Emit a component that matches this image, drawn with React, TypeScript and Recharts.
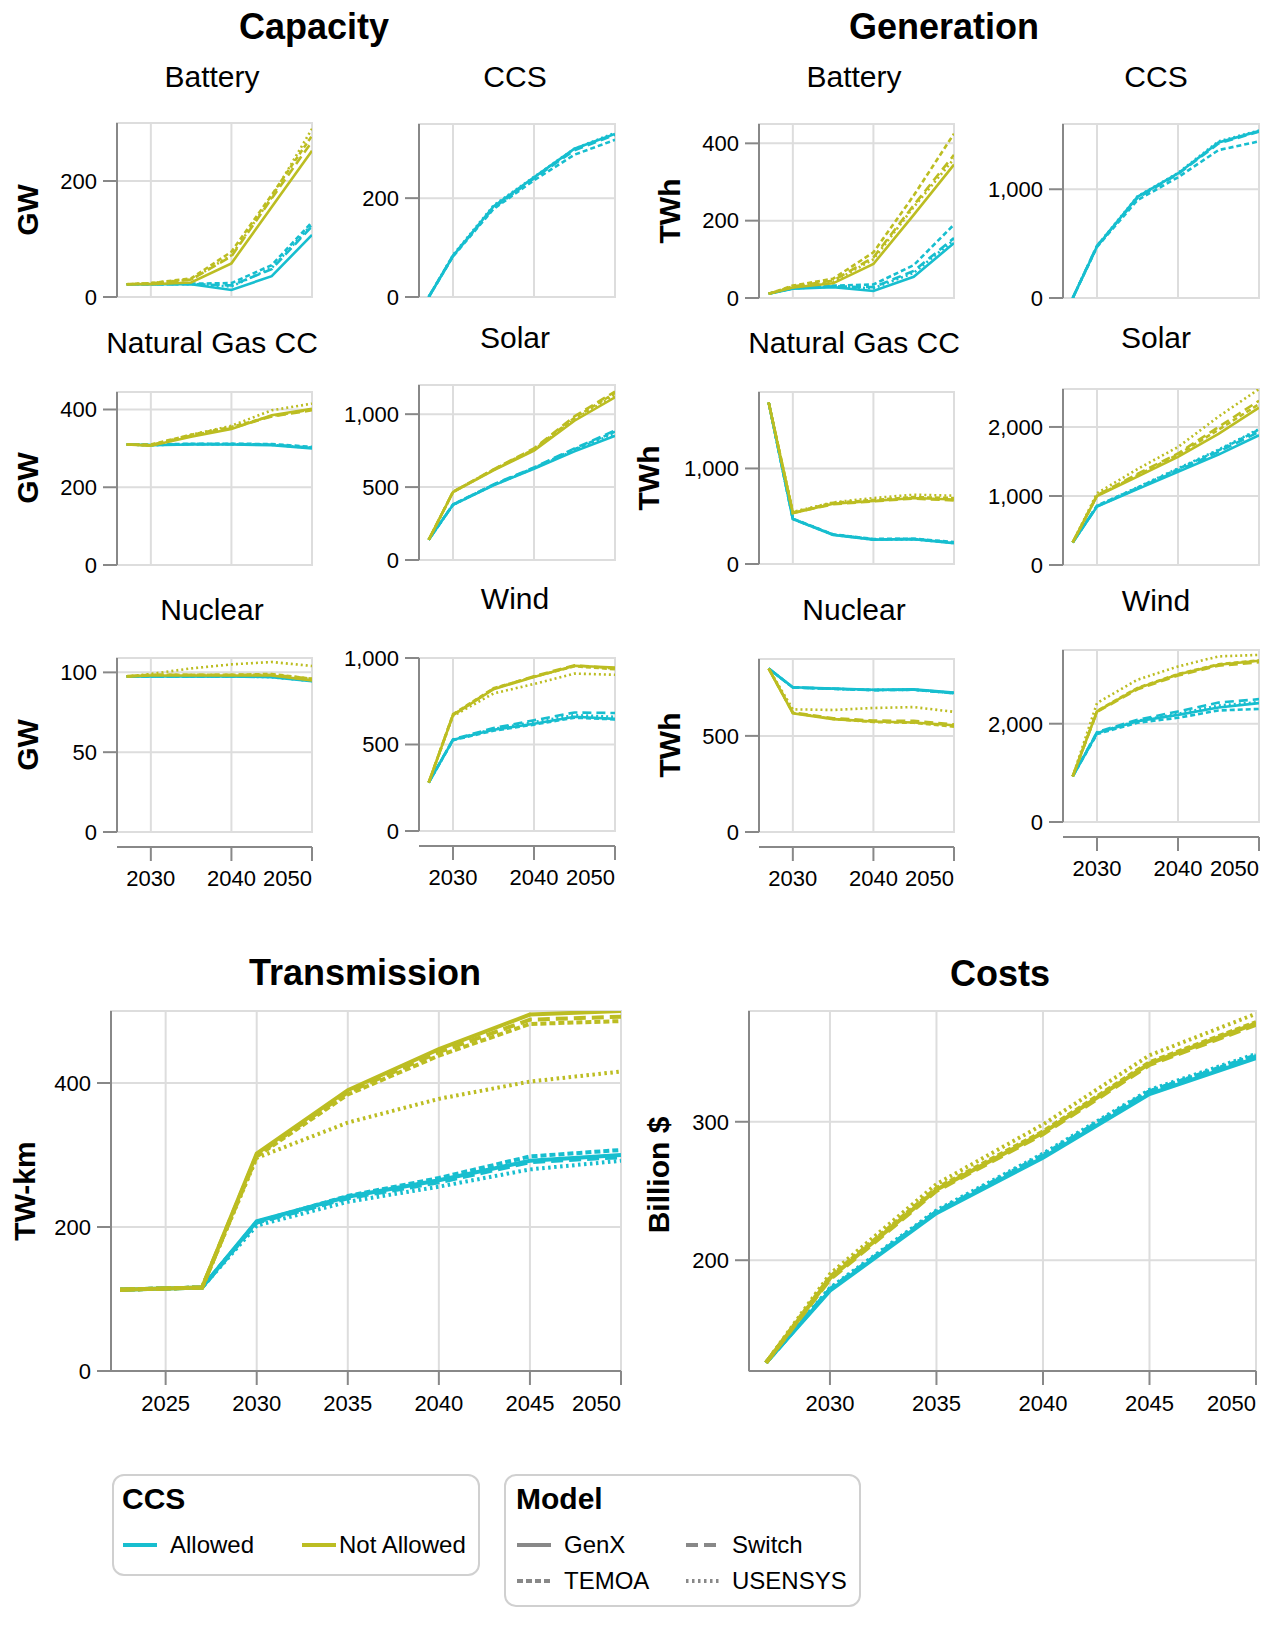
import React from 'react';
import { LineChart, Line, XAxis, YAxis, CartesianGrid, ReferenceArea } from 'recharts';

const CYAN = '#17becf';
const OLIVE = '#bcbd22';
const AXIS = '#888888';
const GRID = '#dddddd';
const FONT = '"Liberation Sans", Arial, Helvetica, sans-serif';

const models = ['GenX', 'Switch', 'TEMOA', 'USENSYS'];
const years = [2027, 2030, 2035, 2040, 2045, 2050];
const transYears = [2022.5, 2027, 2030, 2035, 2040, 2045, 2050];

type Rec = Record<string, number[]>;

// Capacity (GW)
const capBatteryAllowed: Rec = {
  GenX: [22, 22, 22, 12, 36, 107],
  Switch: [22, 22, 22, 20, 48, 122],
  TEMOA: [22, 22, 23, 24, 55, 129],
  USENSYS: [22, 22, 22, 18, 50, 125],
};
const capBatteryNot: Rec = {
  GenX: [22, 22, 25, 58, 155, 252],
  Switch: [22, 23, 30, 70, 170, 268],
  TEMOA: [22, 24, 32, 78, 176, 278],
  USENSYS: [22, 24, 30, 72, 172, 290],
};
const capCcsAllowed: Rec = {
  GenX: [0, 83, 183, 242, 300, 330],
  Switch: [0, 84, 180, 240, 297, 328],
  TEMOA: [0, 82, 178, 236, 288, 318],
  USENSYS: [0, 85, 185, 243, 300, 332],
};
const capGasAllowed: Rec = {
  GenX: [310, 308, 310, 310, 308, 300],
  Switch: [310, 309, 311, 311, 310, 302],
  TEMOA: [310, 310, 312, 312, 311, 304],
  USENSYS: [310, 308, 311, 311, 309, 301],
};
const capGasNot: Rec = {
  GenX: [310, 307, 330, 350, 385, 402],
  Switch: [310, 308, 333, 352, 382, 398],
  TEMOA: [310, 310, 335, 355, 383, 400],
  USENSYS: [310, 308, 335, 358, 398, 415],
};
const capSolarAllowed: Rec = {
  GenX: [139, 379, 512, 625, 745, 852],
  Switch: [139, 380, 518, 635, 765, 888],
  TEMOA: [139, 381, 516, 632, 760, 880],
  USENSYS: [139, 378, 514, 628, 752, 870],
};
const capSolarNot: Rec = {
  GenX: [139, 466, 615, 750, 955, 1116],
  Switch: [139, 468, 622, 765, 985, 1155],
  TEMOA: [139, 467, 620, 760, 975, 1145],
  USENSYS: [139, 466, 618, 755, 965, 1130],
};
const capNuclearAllowed: Rec = {
  GenX: [97.5, 97.5, 97.5, 97.5, 97, 94.5],
  Switch: [97.5, 97.5, 97.5, 97.5, 97.5, 95],
  TEMOA: [97.5, 97.5, 97.5, 97.5, 97.5, 95],
  USENSYS: [97.5, 97.5, 97.5, 97.5, 97, 94.5],
};
const capNuclearNot: Rec = {
  GenX: [97.5, 98, 98, 98, 98, 95],
  Switch: [97.5, 98.5, 98.5, 98.5, 98.5, 96],
  TEMOA: [97.5, 98.5, 98.5, 98.5, 99, 96],
  USENSYS: [97.5, 99, 102.5, 105, 106.5, 104],
};
const capWindAllowed: Rec = {
  GenX: [280, 527, 585, 620, 660, 648],
  Switch: [280, 530, 595, 640, 685, 682],
  TEMOA: [280, 525, 580, 615, 655, 645],
  USENSYS: [280, 528, 590, 630, 670, 660],
};
const capWindNot: Rec = {
  GenX: [280, 670, 820, 890, 955, 945],
  Switch: [280, 672, 822, 895, 958, 940],
  TEMOA: [280, 675, 825, 892, 952, 935],
  USENSYS: [280, 665, 795, 850, 910, 903],
};

// Generation (TWh)
const genBatteryAllowed: Rec = {
  GenX: [11, 24, 28, 18, 55, 142],
  Switch: [11, 25, 30, 28, 70, 155],
  TEMOA: [11, 26, 32, 35, 85, 190],
  USENSYS: [11, 25, 30, 25, 65, 150],
};
const genBatteryNot: Rec = {
  GenX: [11, 27, 38, 88, 215, 345],
  Switch: [11, 30, 45, 105, 240, 370],
  TEMOA: [11, 32, 50, 118, 265, 425],
  USENSYS: [11, 28, 42, 100, 235, 360],
};
const genCcsAllowed: Rec = {
  GenX: [0, 474, 930, 1145, 1430, 1535],
  Switch: [0, 480, 920, 1140, 1420, 1530],
  TEMOA: [0, 470, 900, 1110, 1360, 1440],
  USENSYS: [0, 480, 935, 1150, 1440, 1540],
};
const genGasAllowed: Rec = {
  GenX: [1690, 470, 305, 255, 260, 218],
  Switch: [1690, 472, 308, 258, 262, 222],
  TEMOA: [1690, 475, 310, 262, 265, 230],
  USENSYS: [1690, 470, 306, 256, 258, 220],
};
const genGasNot: Rec = {
  GenX: [1690, 533, 630, 660, 690, 675],
  Switch: [1690, 535, 625, 655, 685, 665],
  TEMOA: [1690, 540, 640, 670, 700, 690],
  USENSYS: [1690, 545, 645, 690, 725, 715],
};
const genSolarAllowed: Rec = {
  GenX: [327, 846, 1100, 1350, 1600, 1880],
  Switch: [327, 850, 1110, 1370, 1640, 1930],
  TEMOA: [327, 860, 1120, 1390, 1660, 1960],
  USENSYS: [327, 855, 1125, 1400, 1670, 1970],
};
const genSolarNot: Rec = {
  GenX: [327, 1000, 1280, 1567, 1900, 2280],
  Switch: [327, 1010, 1320, 1615, 2000, 2380],
  TEMOA: [327, 1005, 1300, 1600, 1960, 2330],
  USENSYS: [327, 1040, 1390, 1710, 2150, 2550],
};
const genNuclearAllowed: Rec = {
  GenX: [850, 753, 746, 740, 742, 725],
  Switch: [850, 752, 745, 738, 740, 722],
  TEMOA: [850, 752, 745, 738, 740, 722],
  USENSYS: [850, 752, 745, 739, 741, 723],
};
const genNuclearNot: Rec = {
  GenX: [850, 618, 587, 575, 570, 555],
  Switch: [850, 622, 592, 580, 578, 560],
  TEMOA: [850, 620, 588, 572, 568, 548],
  USENSYS: [850, 638, 635, 645, 650, 625],
};
const genWindAllowed: Rec = {
  GenX: [929, 1810, 2050, 2180, 2330, 2420],
  Switch: [929, 1830, 2080, 2250, 2430, 2500],
  TEMOA: [929, 1790, 2020, 2120, 2270, 2300],
  USENSYS: [929, 1820, 2060, 2200, 2370, 2440],
};
const genWindNot: Rec = {
  GenX: [929, 2250, 2720, 3000, 3200, 3280],
  Switch: [929, 2240, 2700, 2980, 3180, 3250],
  TEMOA: [929, 2260, 2730, 3010, 3210, 3290],
  USENSYS: [929, 2420, 2895, 3165, 3370, 3400],
};

// Transmission (TW-km)
const transAllowed: Rec = {
  GenX: [113, 116, 208, 242, 265, 292, 300],
  Switch: [113, 116, 206, 240, 262, 290, 297],
  TEMOA: [113, 116, 207, 243, 268, 298, 307],
  USENSYS: [113, 116, 202, 235, 256, 280, 292],
};
const transNot: Rec = {
  GenX: [113, 116, 302, 390, 447, 495, 500],
  Switch: [113, 116, 300, 387, 443, 488, 492],
  TEMOA: [113, 116, 298, 384, 438, 482, 486],
  USENSYS: [113, 116, 296, 345, 378, 402, 416],
};

// Costs (Billion $)
const costAllowed: Rec = {
  GenX: [126, 178, 234, 274, 320, 346],
  Switch: [126, 179, 235, 275, 322, 347],
  TEMOA: [126, 179, 235, 276, 322, 348],
  USENSYS: [126, 180, 236, 277, 323, 349],
};
const costNot: Rec = {
  GenX: [126, 187, 251, 292, 342, 371],
  Switch: [126, 186, 250, 291, 341, 370],
  TEMOA: [126, 188, 252, 293, 343, 372],
  USENSYS: [126, 190, 255, 298, 348, 378],
};

const smallDash: Record<string, string | undefined> = {
  GenX: undefined,
  Switch: '9 5',
  TEMOA: '5 3',
  USENSYS: '2 3',
};
const bigDash: Record<string, string | undefined> = {
  GenX: undefined,
  Switch: '12 6',
  TEMOA: '6 3',
  USENSYS: '2.5 3.5',
};

const fmt = (v: number) => v.toLocaleString('en-US');

// x tick label; the label at the right end of the range is flush right.
// With gap > 0 the tick mark is drawn too, below an axis line gap px under the plot.
function XTick(props: any) {
  const { x, y, payload, gap, last } = props;
  const anchor = payload.value === last ? 'end' : 'middle';
  if (gap) {
    return (
      <g>
        <line x1={x} x2={x} y1={y + gap} y2={y + gap + 14} stroke={AXIS} strokeWidth={2} />
        <text x={x} y={y + gap + 23} dy="0.71em" textAnchor={anchor} fontSize={22} fontFamily={FONT} fill="#000">
          {payload.value}
        </text>
      </g>
    );
  }
  return (
    <text x={x} y={y} dy="0.71em" textAnchor={anchor} fontSize={22} fontFamily={FONT} fill="#000">
      {payload.value}
    </text>
  );
}

function OffsetAxisLine(props: any) {
  const vb = props.viewBox;
  if (!vb) return null;
  return (
    <line x1={vb.x} x2={vb.x + vb.width} y1={vb.y + props.gap} y2={vb.y + props.gap} stroke={AXIS} strokeWidth={2} />
  );
}

type PanelProps = {
  left: number;
  top: number;
  w: number;
  h: number;
  axisW: number;
  xs: number[];
  allowed?: Rec;
  notAllowed?: Rec;
  yDomain: [number, number];
  yTicks: number[];
  xDomain: [number, number];
  xTicks: number[];
  showX?: boolean;
  offsetX?: boolean;
  sw: number;
  dashes: Record<string, string | undefined>;
};

function Panel(p: PanelProps) {
  const rows = p.xs.map((x, i) => {
    const r: Record<string, number> = { year: x };
    models.forEach((m) => {
      if (p.allowed) r['A_' + m] = p.allowed[m][i];
      if (p.notAllowed) r['N_' + m] = p.notAllowed[m][i];
    });
    return r;
  });
  const mTop = 14;
  const mRight = 20;
  const mBottom = p.showX ? 0 : 16;
  const xH = p.showX ? 70 : 0;
  const series: { key: string; color: string; model: string }[] = [];
  if (p.allowed) models.forEach((m) => series.push({ key: 'A_' + m, color: CYAN, model: m }));
  if (p.notAllowed) models.forEach((m) => series.push({ key: 'N_' + m, color: OLIVE, model: m }));

  const gap = 15;
  const xAxisStyle = p.offsetX
    ? {
        axisLine: false,
        tickLine: false,
        tickSize: 0,
        tickMargin: 0,
        tick: <XTick gap={gap} last={p.xDomain[1]} />,
        label: <OffsetAxisLine gap={gap} />,
      }
    : {
        axisLine: { stroke: AXIS, strokeWidth: 2 },
        tickLine: { stroke: AXIS, strokeWidth: 2 },
        tickSize: 14,
        tickMargin: 10,
        tick: <XTick gap={0} last={p.xDomain[1]} />,
      };

  return (
    <div style={{ position: 'absolute', left: p.left - p.axisW, top: p.top - mTop }}>
      <LineChart
        width={p.axisW + p.w + mRight}
        height={mTop + p.h + xH + mBottom}
        data={rows}
        margin={{ top: mTop, right: mRight, bottom: mBottom, left: 0 }}
      >
        <CartesianGrid stroke={GRID} strokeWidth={2} />
        <ReferenceArea
          x1={p.xDomain[0]}
          x2={p.xDomain[1]}
          y1={p.yDomain[0]}
          y2={p.yDomain[1]}
          fill="none"
          stroke={GRID}
          strokeWidth={2}
        />
        <XAxis
          type="number"
          dataKey="year"
          domain={p.xDomain}
          ticks={p.xTicks}
          allowDataOverflow
          hide={!p.showX}
          height={p.showX ? xH : undefined}
          interval={0}
          {...(xAxisStyle as any)}
        />
        <YAxis
          type="number"
          domain={p.yDomain}
          ticks={p.yTicks}
          allowDataOverflow
          width={p.axisW}
          axisLine={{ stroke: AXIS, strokeWidth: 2 }}
          tickLine={{ stroke: AXIS, strokeWidth: 2 }}
          tickSize={14}
          tickMargin={6}
          tickFormatter={fmt}
          tick={{ fill: '#000', fontSize: 22, fontFamily: FONT }}
          interval={0}
        />
        {series.map((s) => (
          <Line
            key={s.key}
            dataKey={s.key}
            type="linear"
            stroke={s.color}
            strokeWidth={p.sw}
            strokeDasharray={p.dashes[s.model]}
            dot={false}
            activeDot={false}
            isAnimationActive={false}
          />
        ))}
      </LineChart>
    </div>
  );
}

function Txt(props: { x: number; y: number; size: number; bold?: boolean; rotate?: boolean; children: React.ReactNode }) {
  return (
    <div
      style={{
        position: 'absolute',
        left: props.x,
        top: props.y,
        transform: `translate(-50%, -50%)${props.rotate ? ' rotate(-90deg)' : ''}`,
        fontSize: props.size,
        fontWeight: props.bold ? 700 : 400,
        lineHeight: 1,
        whiteSpace: 'nowrap',
        fontFamily: FONT,
        color: '#000',
      }}
    >
      {props.children}
    </div>
  );
}

function Sample({ x, y, color, dash }: { x: number; y: number; color: string; dash?: string }) {
  return (
    <svg style={{ position: 'absolute', left: x, top: y - 5 }} width={34} height={10}>
      <line x1={0} y1={5} x2={34} y2={5} stroke={color} strokeWidth={4} strokeDasharray={dash} />
    </svg>
  );
}

function LeftTxt({ x, y, size, bold, children }: { x: number; y: number; size: number; bold?: boolean; children: React.ReactNode }) {
  return (
    <div
      style={{
        position: 'absolute',
        left: x,
        top: y,
        transform: 'translateY(-50%)',
        fontSize: size,
        fontWeight: bold ? 700 : 400,
        lineHeight: 1,
        whiteSpace: 'nowrap',
        fontFamily: FONT,
        color: '#000',
      }}
    >
      {children}
    </div>
  );
}

const SMALL_X: [number, number] = [2025.8, 2050];
const SMALL_TICKS = [2030, 2040, 2050];

export default function App() {
  const common = { xs: years, xDomain: SMALL_X, xTicks: SMALL_TICKS, sw: 2.6, dashes: smallDash };
  return (
    <div style={{ position: 'absolute', left: 0, top: 0, width: 1269, height: 1632, background: '#fff', fontFamily: FONT }}>
      {/* Capacity */}
      <Panel {...common} left={117} top={123} w={195} h={174} axisW={117} allowed={capBatteryAllowed} notAllowed={capBatteryNot} yDomain={[0, 300]} yTicks={[0, 200]} />
      <Panel {...common} left={419} top={124} w={196} h={173} axisW={100} allowed={capCcsAllowed} yDomain={[0, 350]} yTicks={[0, 200]} />
      <Panel {...common} left={117} top={392} w={195} h={173} axisW={117} allowed={capGasAllowed} notAllowed={capGasNot} yDomain={[0, 445]} yTicks={[0, 200, 400]} />
      <Panel {...common} left={419} top={385} w={196} h={175} axisW={100} allowed={capSolarAllowed} notAllowed={capSolarNot} yDomain={[0, 1200]} yTicks={[0, 500, 1000]} />
      <Panel {...common} left={117} top={658} w={195} h={174} axisW={117} allowed={capNuclearAllowed} notAllowed={capNuclearNot} yDomain={[0, 109]} yTicks={[0, 50, 100]} showX offsetX />
      <Panel {...common} left={419} top={658} w={196} h={173} axisW={100} allowed={capWindAllowed} notAllowed={capWindNot} yDomain={[0, 1000]} yTicks={[0, 500, 1000]} showX offsetX />

      {/* Generation */}
      <Panel {...common} left={759} top={124} w={195} h={174} axisW={100} allowed={genBatteryAllowed} notAllowed={genBatteryNot} yDomain={[0, 450]} yTicks={[0, 200, 400]} />
      <Panel {...common} left={1063} top={124} w={196} h={174} axisW={100} allowed={genCcsAllowed} yDomain={[0, 1600]} yTicks={[0, 1000]} />
      <Panel {...common} left={759} top={392} w={195} h={172} axisW={100} allowed={genGasAllowed} notAllowed={genGasNot} yDomain={[0, 1800]} yTicks={[0, 1000]} />
      <Panel {...common} left={1063} top={389} w={196} h={176} axisW={100} allowed={genSolarAllowed} notAllowed={genSolarNot} yDomain={[0, 2550]} yTicks={[0, 1000, 2000]} />
      <Panel {...common} left={759} top={659} w={195} h={173} axisW={100} allowed={genNuclearAllowed} notAllowed={genNuclearNot} yDomain={[0, 900]} yTicks={[0, 500]} showX offsetX />
      <Panel {...common} left={1063} top={650} w={196} h={172} axisW={100} allowed={genWindAllowed} notAllowed={genWindNot} yDomain={[0, 3500]} yTicks={[0, 2000]} showX offsetX />

      {/* Transmission & Costs */}
      <Panel left={111} top={1011} w={510} h={360} axisW={100} xs={transYears} allowed={transAllowed} notAllowed={transNot} yDomain={[0, 500]} yTicks={[0, 200, 400]} xDomain={[2022, 2050]} xTicks={[2025, 2030, 2035, 2040, 2045, 2050]} showX sw={4} dashes={bigDash} />
      <Panel left={749} top={1011} w={507} h={360} axisW={100} xs={years} allowed={costAllowed} notAllowed={costNot} yDomain={[120, 380]} yTicks={[200, 300]} xDomain={[2026.2, 2050]} xTicks={[2030, 2035, 2040, 2045, 2050]} showX sw={4} dashes={bigDash} />

      {/* Titles */}
      <Txt x={314} y={27} size={36} bold>Capacity</Txt>
      <Txt x={944} y={27} size={36} bold>Generation</Txt>
      <Txt x={212} y={77} size={30}>Battery</Txt>
      <Txt x={515} y={77} size={30}>CCS</Txt>
      <Txt x={854} y={77} size={30}>Battery</Txt>
      <Txt x={1156} y={77} size={30}>CCS</Txt>
      <Txt x={212} y={343} size={30}>Natural Gas CC</Txt>
      <Txt x={515} y={338} size={30}>Solar</Txt>
      <Txt x={854} y={343} size={30}>Natural Gas CC</Txt>
      <Txt x={1156} y={338} size={30}>Solar</Txt>
      <Txt x={212} y={610} size={30}>Nuclear</Txt>
      <Txt x={515} y={599} size={30}>Wind</Txt>
      <Txt x={854} y={610} size={30}>Nuclear</Txt>
      <Txt x={1156} y={601} size={30}>Wind</Txt>

      <Txt x={28} y={210} size={30} bold rotate>GW</Txt>
      <Txt x={28} y={478} size={30} bold rotate>GW</Txt>
      <Txt x={28} y={745} size={30} bold rotate>GW</Txt>
      <Txt x={670} y={211} size={30} bold rotate>TWh</Txt>
      <Txt x={649} y={478} size={30} bold rotate>TWh</Txt>
      <Txt x={670} y={745} size={30} bold rotate>TWh</Txt>

      <Txt x={365} y={973} size={36} bold>Transmission</Txt>
      <Txt x={1000} y={974} size={36} bold>Costs</Txt>
      <Txt x={25} y={1191} size={30} bold rotate>TW-km</Txt>
      <Txt x={659} y={1175} size={30} bold rotate>Billion $</Txt>

      {/* Legends */}
      <div style={{ position: 'absolute', left: 112, top: 1474, width: 364, height: 98, border: '2px solid #d0d0d0', borderRadius: 12 }} />
      <LeftTxt x={122} y={1499} size={30} bold>CCS</LeftTxt>
      <Sample x={123} y={1545} color={CYAN} />
      <LeftTxt x={170} y={1545} size={24}>Allowed</LeftTxt>
      <Sample x={302} y={1545} color={OLIVE} />
      <LeftTxt x={339} y={1545} size={24}>Not Allowed</LeftTxt>

      <div style={{ position: 'absolute', left: 504, top: 1474, width: 353, height: 129, border: '2px solid #d0d0d0', borderRadius: 12 }} />
      <LeftTxt x={516} y={1499} size={30} bold>Model</LeftTxt>
      <Sample x={517} y={1545} color={AXIS} dash={bigDash.GenX} />
      <LeftTxt x={564} y={1545} size={24}>GenX</LeftTxt>
      <Sample x={686} y={1545} color={AXIS} dash={bigDash.Switch} />
      <LeftTxt x={732} y={1545} size={24}>Switch</LeftTxt>
      <Sample x={517} y={1581} color={AXIS} dash={bigDash.TEMOA} />
      <LeftTxt x={564} y={1581} size={24}>TEMOA</LeftTxt>
      <Sample x={686} y={1581} color={AXIS} dash={bigDash.USENSYS} />
      <LeftTxt x={732} y={1581} size={24}>USENSYS</LeftTxt>
    </div>
  );
}
